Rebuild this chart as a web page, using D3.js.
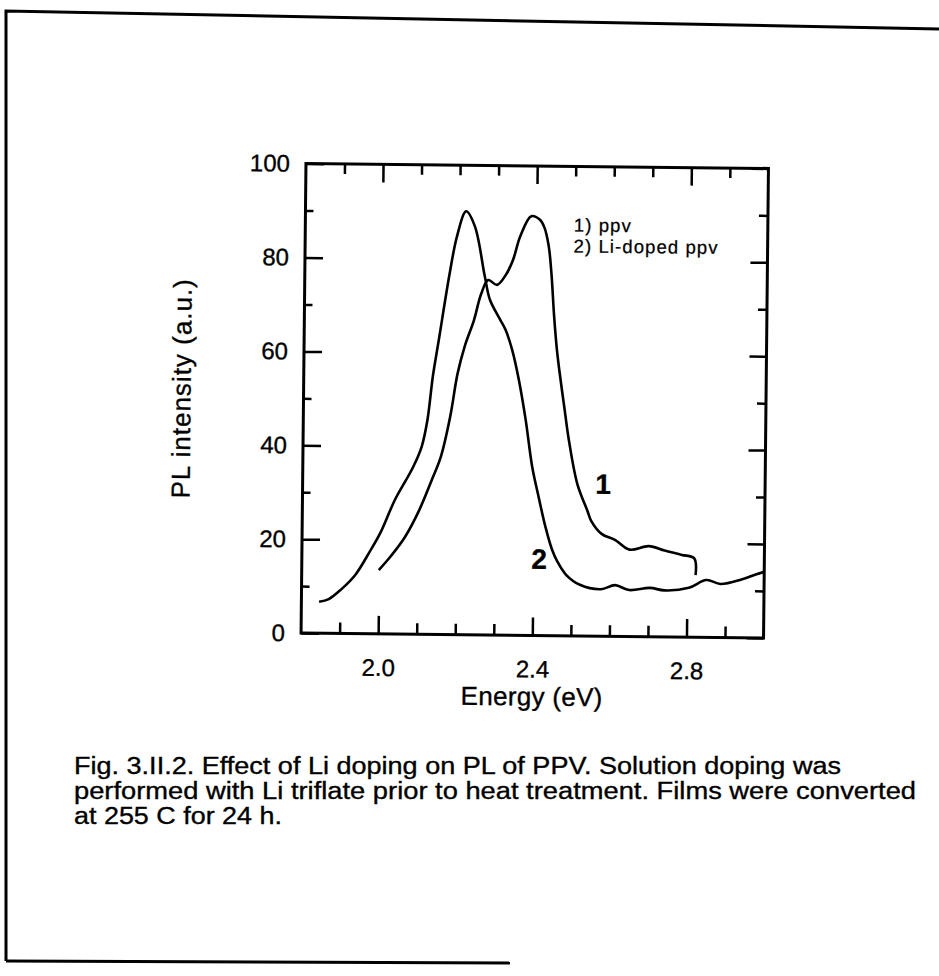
<!DOCTYPE html>
<html>
<head>
<meta charset="utf-8">
<script src="https://cdn.jsdelivr.net/npm/d3@7"></script>
<style>
	body { margin: 0; background: #fff; }
	svg { display: block; }
	text { font-family: "Liberation Sans", Arial, Helvetica, sans-serif; fill: #000; stroke: #000; stroke-width: 0.35px; }
</style>
</head>
<body>
<svg id="chart" width="939" height="976"></svg>
<script>
// 1) ppv
var ppvEnergy = [2.000, 2.030, 2.067, 2.103, 2.135, 2.158, 2.181, 2.199, 2.217, 2.240, 2.258, 2.276, 2.299, 2.322, 2.340, 2.358, 2.386, 2.408, 2.420, 2.432, 2.440, 2.448, 2.456, 2.463, 2.477, 2.490, 2.513, 2.540, 2.550, 2.577, 2.613, 2.650, 2.700, 2.741, 2.786, 2.818, 2.822];
var ppvIntensity = [13.6, 16.5, 20.7, 26.4, 32.9, 37.9, 46.4, 55.6, 61.5, 67.0, 72.6, 75.6, 74.6, 76.8, 80.0, 85.0, 89.3, 88.6, 87.0, 83.0, 77.0, 68.0, 61.0, 56.5, 48.6, 41.5, 32.3, 26.6, 24.5, 21.8, 20.5, 18.5, 19.3, 18.4, 17.5, 16.8, 13.2];

// 2) Li-doped ppv
var liEnergy = [1.846, 1.871, 1.903, 1.939, 1.976, 2.003, 2.040, 2.085, 2.108, 2.122, 2.135, 2.149, 2.176, 2.194, 2.217, 2.240, 2.267, 2.281, 2.308, 2.322, 2.340, 2.358, 2.377, 2.395, 2.413, 2.431, 2.449, 2.463, 2.486, 2.522, 2.577, 2.613, 2.650, 2.704, 2.741, 2.805, 2.850, 2.887, 2.941, 2.978, 3.000];
var liIntensity = [6.7, 7.3, 9.4, 12.5, 17.5, 21.5, 28.6, 35.4, 40.0, 45.6, 55.0, 62.5, 77.0, 84.9, 90.2, 87.0, 76.4, 71.4, 67.2, 65.1, 60.8, 54.5, 45.9, 36.0, 29.4, 23.2, 18.3, 15.8, 13.0, 10.9, 10.0, 10.9, 9.9, 10.4, 9.9, 10.5, 12.2, 11.4, 12.4, 13.5, 14.1];

var xMajorTicks = [2.0, 2.4, 2.8];
var xMinorTicks = [1.9, 2.1, 2.2, 2.3, 2.5, 2.6, 2.7, 2.9];
var yMajorTicks = [0, 20, 40, 60, 80, 100];
var yMinorTicks = [10, 30, 50, 70, 90];

var legendLines = ["1) ppv", "2) Li-doped ppv"];
var curveLabels = ["1", "2"];
var captionLines = [
	"Fig. 3.II.2. Effect of Li doping on PL of PPV. Solution doping was",
	"performed with Li triflate prior to heat treatment. Films were converted",
	"at 255 C for 24 h."
];

var svg = d3.select("#chart");

// --------------------------------------------
// Page border (scanned sheet)
// --------------------------------------------
svg.append("path")
	.attr("d", "M6,961 L6,11 L939,29")
	.style("fill", "none")
	.style("stroke", "#000")
	.style("stroke-width", 3);

svg.append("path")
	.attr("d", "M6,961 L510,963")
	.style("fill", "none")
	.style("stroke", "#000")
	.style("stroke-width", 3);

// --------------------------------------------
// Plot
// --------------------------------------------
var plot = { left: 303.5, top: 166, width: 462.5, height: 469.5 };
var width = plot.width, height = plot.height;

var g = svg.append("g")
	.attr("transform", "rotate(0.6, " + (plot.left + width / 2) + ", " + (plot.top + height / 2) + ") translate(" + plot.left + ", " + plot.top + ")");

var x = d3.scaleLinear().domain([1.8, 3.0]).range([0, width]);
var y = d3.scaleLinear().domain([0, 100]).range([height, 0]);

function styleAxis(sel) {
	sel.select(".domain").remove();
	sel.selectAll(".tick line").style("stroke", "#000").style("stroke-width", 2.5);
	sel.selectAll(".tick text")
		.style("font-size", "24px")
		.style("font-family", "\"Liberation Sans\", Arial, Helvetica, sans-serif")
		.style("fill", "#000");
}

// bottom
g.append("g").attr("transform", "translate(0," + height + ")")
	.call(d3.axisBottom(x).tickValues(xMinorTicks).tickSizeInner(-11).tickSizeOuter(0).tickFormat(""))
	.call(styleAxis);
g.append("g").attr("transform", "translate(0," + height + ")")
	.call(d3.axisBottom(x).tickValues(xMajorTicks).tickSizeInner(-18).tickSizeOuter(0).tickPadding(25).tickFormat(d3.format(".1f")))
	.call(styleAxis);

// top
g.append("g")
	.call(d3.axisTop(x).tickValues(xMinorTicks).tickSizeInner(-10).tickSizeOuter(0).tickFormat(""))
	.call(styleAxis);
g.append("g")
	.call(d3.axisTop(x).tickValues(xMajorTicks).tickSizeInner(-18).tickSizeOuter(0).tickFormat(""))
	.call(styleAxis);

// left
g.append("g")
	.call(d3.axisLeft(y).tickValues(yMinorTicks).tickSizeInner(-8).tickSizeOuter(0).tickFormat(""))
	.call(styleAxis);
g.append("g")
	.call(d3.axisLeft(y).tickValues(yMajorTicks).tickSizeInner(-18).tickSizeOuter(0).tickPadding(16).tickFormat(d3.format("d")))
	.call(styleAxis);

// right
g.append("g").attr("transform", "translate(" + width + ",0)")
	.call(d3.axisRight(y).tickValues(yMinorTicks).tickSizeInner(-9).tickSizeOuter(0).tickFormat(""))
	.call(styleAxis);
g.append("g").attr("transform", "translate(" + width + ",0)")
	.call(d3.axisRight(y).tickValues(yMajorTicks).tickSizeInner(-17).tickSizeOuter(0).tickFormat(""))
	.call(styleAxis);

// frame
g.append("rect")
	.attr("width", width)
	.attr("height", height)
	.style("fill", "none")
	.style("stroke", "#000")
	.style("stroke-width", 3);

// curves
var line = d3.line()
	.x(d => x(d[0]))
	.y(d => y(d[1]))
	.curve(d3.curveCatmullRom.alpha(0.5));

var series = [
	d3.zip(ppvEnergy, ppvIntensity),
	d3.zip(liEnergy, liIntensity)
];

g.selectAll("path.curve")
	.data(series)
	.enter()
	.append("path")
	.classed("curve", true)
	.attr("d", line)
	.style("fill", "none")
	.style("stroke", "#000")
	.style("stroke-width", 2.6)
	.style("stroke-linejoin", "round");

// curve numbers next to the lines
var labelAt = [[2.58, 30.3], [2.416, 14.2]];
g.selectAll("text.curvelabel")
	.data(curveLabels)
	.enter()
	.append("text")
	.classed("curvelabel", true)
	.attr("x", (d, i) => x(labelAt[i][0]))
	.attr("y", (d, i) => y(labelAt[i][1]))
	.attr("text-anchor", "middle")
	.style("font-size", "28px")
	.style("font-weight", "bold")
	.text(d => d);

// legend
g.selectAll("text.legend")
	.data(legendLines)
	.enter()
	.append("text")
	.classed("legend", true)
	.attr("x", 268.5)
	.attr("y", (d, i) => 65 + i * 21)
	.style("font-size", "18.5px")
	.style("letter-spacing", "1.1px")
	.style("stroke-width", "0.25px")
	.text(d => d);

// axis titles
g.append("text")
	.attr("x", width / 2)
	.attr("y", height + 70)
	.attr("text-anchor", "middle")
	.style("font-size", "26px")
	.style("letter-spacing", "0.3px")
	.text("Energy (eV)");

g.append("text")
	.attr("transform", "translate(-113, 226) rotate(-90)")
	.attr("text-anchor", "middle")
	.style("font-size", "26px")
	.style("letter-spacing", "1px")
	.text("PL intensity (a.u.)");

// --------------------------------------------
// Caption
// --------------------------------------------
var captionWidths = [767, 842, 208];
svg.selectAll("text.caption")
	.data(captionLines)
	.enter()
	.append("text")
	.classed("caption", true)
	.attr("x", 74)
	.attr("y", (d, i) => 774 + i * 25)
	.attr("textLength", (d, i) => captionWidths[i])
	.attr("lengthAdjust", "spacingAndGlyphs")
	.style("font-size", "23.5px")
	.style("font-family", "\"Liberation Sans Narrow\", \"Arial Narrow\", \"Liberation Sans\", Arial, sans-serif")
	.text(d => d);
</script>
</body>
</html>
